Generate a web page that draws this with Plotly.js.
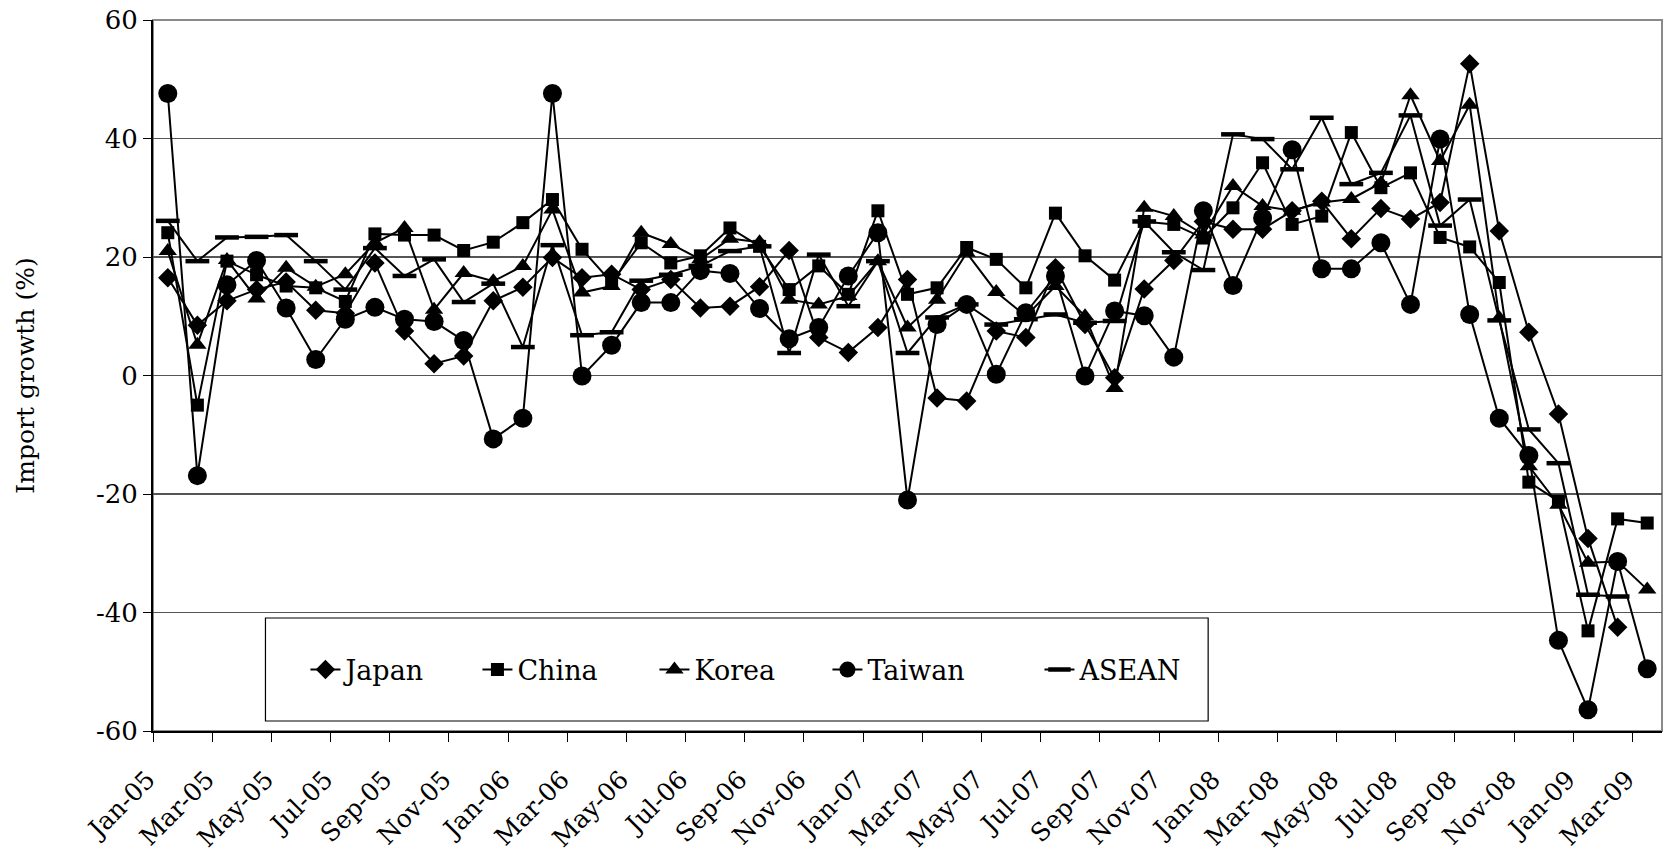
<!DOCTYPE html>
<html>
<head>
<meta charset="utf-8">
<script src="https://cdn.plot.ly/plotly-3.0.1.min.js"></script>
<style>
html,body{margin:0;padding:0;background:#fff;}
#chart{width:1665px;height:857px;}
</style>
</head>
<body>
<div id="chart"></div>
<script>
const months = ["Jan-05","Feb-05","Mar-05","Apr-05","May-05","Jun-05","Jul-05","Aug-05","Sep-05","Oct-05","Nov-05","Dec-05",
"Jan-06","Feb-06","Mar-06","Apr-06","May-06","Jun-06","Jul-06","Aug-06","Sep-06","Oct-06","Nov-06","Dec-06",
"Jan-07","Feb-07","Mar-07","Apr-07","May-07","Jun-07","Jul-07","Aug-07","Sep-07","Oct-07","Nov-07","Dec-07",
"Jan-08","Feb-08","Mar-08","Apr-08","May-08","Jun-08","Jul-08","Aug-08","Sep-08","Oct-08","Nov-08","Dec-08",
"Jan-09","Feb-09","Mar-09"];

const japan = [16.5,8.5,12.6,14.5,15.8,11,10.5,19,7.5,2.0,3.3,12.6,
14.9,19.9,16.5,17.1,14.5,16.2,11.4,11.7,15,21.1,6.4,3.9,
8.1,16.2,-3.8,-4.3,7.5,6.4,18.2,8.6,-0.4,14.6,19.4,26,
24.7,24.7,27.8,29.4,23.1,28.2,26.4,29.2,52.6,24.4,7.3,-6.5,
-27.5,-42.5,null];

const china = [24.1,-5,19.3,17,15.1,14.8,12.5,23.9,23.7,23.7,21.1,22.5,
25.8,29.7,21.3,15.7,22.4,19,20.2,24.9,21.8,14.5,18.5,13.7,
27.8,13.7,14.8,21.6,19.6,14.8,27.4,20.2,16.1,26,25.5,23.2,
28.3,35.9,25.5,26.9,41,31.7,34.2,23.3,21.7,15.7,-18,-21.2,
-43.1,-24.2,-24.9];

const korea = [21,5.2,19.5,13,18.2,15,17.1,22.4,24.9,11.1,17.3,15.9,
18.5,28,14,15.1,24.1,22.2,19.6,23.1,22.5,12.8,12,13.4,
19.3,8.1,12.8,20.7,14.1,10,15.1,10,-2.1,28.3,26.9,23.8,
32,28.6,27.8,29.2,29.8,32.5,47.3,36.2,45.7,9.7,-15.3,-21.8,
-31.6,-31.4,-36.1];

const taiwan = [47.6,-16.9,15.3,19.4,11.4,2.7,9.5,11.5,9.5,9.1,5.9,-10.7,
-7.2,47.6,-0.1,5.1,12.3,12.3,17.7,17.2,11.3,6.2,8.1,16.8,
24.1,-21,8.6,12,0.2,10.6,16.8,-0.1,10.9,10.1,3.1,27.8,
15.2,26.6,38.1,18,18,22.4,12,39.9,10.3,-7.2,-13.5,-44.7,
-56.4,-31.4,-49.5];

const asean = [26.1,19.3,23.3,23.4,23.7,19.3,14.5,21.5,16.8,19.6,12.4,15.5,
4.8,22,6.8,7.3,16,17,18.5,21,21.8,3.8,20.4,11.7,
19.3,3.8,9.8,12,8.6,9.5,10.3,8.9,9.2,26,20.8,17.8,
40.7,39.9,34.8,43.5,32.3,34.2,43.9,25.3,29.7,9.3,-9.1,-14.8,
-37,-37.3,null];

const yTickVals = [-60,-40,-20,0,20,40,60];
const yTickText = ["-60","-40","-20","0","20","40","60"];

const seriesNames = ["Japan","China","Korea","Taiwan","ASEAN"];
const seriesData = [japan, china, korea, taiwan, asean];
const symbols = ["diamond","square","triangle-up","circle","line-ew"];
const sizes = [15,13,16,19,17];
const legendWidths = [127,132,128,167,120];

const FONT = "DejaVu Serif";

const traces = seriesNames.map((name, k) => ({
  type: "scatter",
  mode: "lines+markers",
  name: name,
  x: months,
  y: seriesData[k],
  legendwidth: legendWidths[k],
  line: {color: "#000", width: 2},
  marker: {
    symbol: symbols[k],
    size: sizes[k],
    color: "#000",
    line: {color: "#000", width: symbols[k] === "line-ew" ? 4.5 : 0}
  },
  connectgaps: false,
  hoverinfo: "x+y+name"
}));

const L = 152.5, R = 1662, T = 20, B = 731;
const W = R - L, H = B - T;
const px = v => (v - L) / W;
const py = v => (B - v) / H;

const layout = {
  width: 1665,
  height: 857,
  margin: {l: L, r: 1665 - R, t: T, b: 857 - B, pad: 0},
  paper_bgcolor: "#fff",
  plot_bgcolor: "#fff",
  font: {family: FONT, color: "#000", size: 26},
  showlegend: true,
  legend: {
    orientation: "h",
    x: px(305), xanchor: "left",
    y: py(670), yanchor: "middle",
    bgcolor: "rgba(0,0,0,0)",
    borderwidth: 0,
    font: {family: FONT, size: 27, color: "#000"},
    itemwidth: 30,
    traceorder: "normal"
  },
  xaxis: {
    type: "category",
    range: [-0.5, months.length - 0.5],
    dtick: 2,
    tick0: 0,
    tickson: "boundaries",
    ticks: "outside",
    ticklen: 9,
    tickwidth: 1,
    tickcolor: "#000",
    tickangle: -45,
    tickfont: {family: FONT, size: 25, color: "#000"},
    ticklabelstandoff: 22,
    ticklabelshift: -20,
    showline: true,
    linecolor: "#000",
    linewidth: 2,
    showgrid: false,
    zeroline: false,
    fixedrange: true
  },
  yaxis: {
    range: [-60, 60],
    tickmode: "array",
    tickvals: yTickVals,
    ticktext: yTickText,
    ticks: "outside",
    ticklen: 8,
    tickwidth: 1,
    tickcolor: "#000",
    tickfont: {family: FONT, size: 26, color: "#000"},
    showline: true,
    linecolor: "#000",
    linewidth: 2,
    showgrid: true,
    gridcolor: "#555",
    gridwidth: 1.2,
    zeroline: true,
    zerolinecolor: "#555",
    zerolinewidth: 1.2,
    title: {text: "Import growth (%)", font: {family: FONT, size: 25, color: "#000"}, standoff: 54},
    automargin: false,
    fixedrange: true
  },
  shapes: [
    {type: "rect", xref: "paper", yref: "paper", x0: 0, x1: 1, y0: 0, y1: 1,
     line: {color: "#8a8a8a", width: 2}, fillcolor: "rgba(0,0,0,0)", layer: "below"},
    {type: "rect", xref: "paper", yref: "paper", x0: px(265), x1: px(1208), y0: py(721), y1: py(618),
     line: {color: "#000", width: 1.2}, fillcolor: "#fff", layer: "above"}
  ]
};

Plotly.newPlot("chart", traces, layout, {displayModeBar: false, staticPlot: true});
</script>
</body>
</html>
